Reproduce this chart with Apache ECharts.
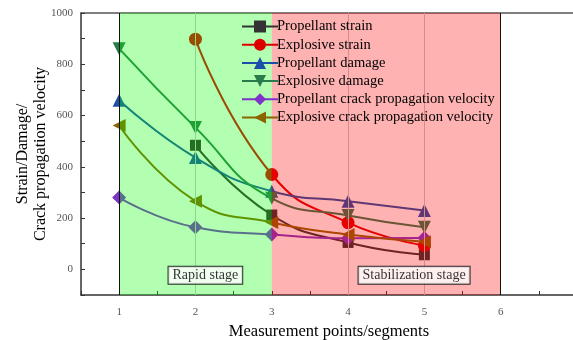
<!DOCTYPE html>
<html>
<head>
<meta charset="utf-8">
<script src="https://cdn.jsdelivr.net/npm/echarts@6/dist/echarts.min.js"></script>
<style>html,body{margin:0;padding:0;background:#fff;}#c{width:573px;height:340px;}</style>
</head>
<body>
<div id="c"></div>
<script>
// ---- data ----
var points = [1, 2, 3, 4, 5];
var seriesNames = [
  'Propellant strain',
  'Explosive strain',
  'Propellant damage',
  'Explosive damage',
  'Propellant crack propagation velocity',
  'Explosive crack propagation velocity'
];
var propellantStrain = [null, 484, 212, 105, 57];
var explosiveStrain  = [null, 898, 370, 182, 93];
var propellantDamage = [660, 436, 305, 266, 230];
var explosiveDamage  = [861, 553, 277, 210, 164];
var propellantCrack  = [280, 164, 136, 121, 122];
var explosiveCrack   = [561, 266, 183, 136, 108];
var xTickLabels = [1, 2, 3, 4, 5, 6];
var yTickLabels = [0, 200, 400, 600, 800, 1000];
var stages = [
  {name: 'Rapid stage', from: 1, to: 3, labelX: 2.13, labelY: -23},
  {name: 'Stabilization stage', from: 3, to: 6, labelX: 4.865, labelY: -23}
];

var values = [propellantStrain, explosiveStrain, propellantDamage, explosiveDamage, propellantCrack, explosiveCrack];
var colors = ['#333333', '#dd0000', '#1c4fa8', '#2b7a4b', '#8033c8', '#8b6400'];
var symbols = ['rect', 'circle', 'triangle', 'triangle', 'diamond', 'triangle'];
var rotations = [0, 0, 0, 180, 0, 90];
var sizes = [11, 13, 13, 13, 14, 13];

function pairs(arr) {
  var out = [];
  for (var i = 0; i < points.length; i++) {
    if (arr[i] !== null) out.push([points[i], arr[i]]);
  }
  return out;
}

var serif = 'Liberation Serif';
var series = [];
for (var k = 0; k < seriesNames.length; k++) {
  series.push({
    name: seriesNames[k],
    type: 'line',
    smooth: true,
    data: pairs(values[k]),
    symbol: symbols[k],
    symbolSize: sizes[k],
    symbolRotate: rotations[k],
    z: 2,
    lineStyle: {width: 2, color: colors[k]},
    itemStyle: {color: colors[k]}
  });
}
// faint grid lines inside shaded regions
series.push({
  type: 'line', data: [], silent: true, z: 3,
  markLine: {
    silent: true, symbol: 'none', label: {show: false}, z: 3,
    data: [
      {xAxis: 2, lineStyle: {color: '#c8c8c8', width: 1, type: 'solid'}},
      {xAxis: 4, lineStyle: {color: '#c8c8c8', width: 1, type: 'solid'}},
      {xAxis: 5, lineStyle: {color: '#c8c8c8', width: 1, type: 'solid'}}
    ]
  }
});
// translucent stage overlays drawn above the curves
series.push({
  type: 'line', data: [], silent: true, z: 10,
  markArea: {
    silent: true, z: 10,
    data: [
      [{xAxis: stages[0].from, itemStyle: {color: 'rgba(0,255,0,0.3)'}}, {xAxis: stages[0].to}],
      [{xAxis: stages[1].from, itemStyle: {color: 'rgba(255,0,0,0.3)'}}, {xAxis: stages[1].to}]
    ]
  },
  markLine: {
    silent: true, symbol: 'none', label: {show: false}, z: 12,
    lineStyle: {color: '#111', width: 1, type: 'solid'},
    data: [{xAxis: stages[0].from}, {xAxis: stages[1].to}]
  }
});
// stage labels
series.push({
  type: 'scatter', silent: true, z: 20,
  symbolSize: 1, itemStyle: {color: 'rgba(0,0,0,0)'},
  data: stages.map(function (s) { return {name: s.name, value: [s.labelX, s.labelY]}; }),
  label: {
    show: true, position: 'inside', formatter: '{b}',
    fontFamily: serif, fontSize: 14, color: '#000',
    backgroundColor: '#fff', borderColor: '#000', borderWidth: 1,
    padding: [2, 4, 1, 4]
  }
});

var chart = echarts.init(document.getElementById('c'), null, {renderer: 'canvas'});
chart.setOption({
  animation: false,
  backgroundColor: '#fff',
  grid: {left: 81, right: -4, top: 13, bottom: 45, containLabel: false, outerBoundsMode: 'none'},
  legend: {
    data: seriesNames,
    orient: 'vertical',
    left: 236, top: 14,
    z: 20,
    itemWidth: 36, itemHeight: 15, itemGap: 3.2,
    textStyle: {fontFamily: serif, fontSize: 14.5, lineHeight: 14, color: '#000', padding: [0, 0, 0, -6]}
  },
  xAxis: [{
    type: 'value', min: 0.5, max: 7, interval: 0.5,
    name: 'Measurement points/segments', nameLocation: 'middle', nameGap: 23,
    nameTextStyle: {fontFamily: serif, fontSize: 16.5, color: '#000'},
    axisLine: {show: true, onZero: false, lineStyle: {color: '#333', width: 1.5}},
    axisTick: {show: true, inside: true, length: 4, lineStyle: {color: '#333'}},
    axisLabel: {
      margin: 12, fontFamily: serif, fontSize: 11, color: '#555',
      formatter: function (v) { return xTickLabels.indexOf(v) >= 0 ? String(v) : ''; }
    },
    splitLine: {show: false}
  }, {
    type: 'value', min: 0.5, max: 7, position: 'top',
    axisLine: {show: true, onZero: false, lineStyle: {color: '#555', width: 1.5}},
    axisTick: {show: false}, axisLabel: {show: false}, splitLine: {show: false}
  }],
  yAxis: {
    type: 'value', min: -100, max: 1000, interval: 100,
    name: 'Strain/Damage/\nCrack propagation velocity', nameLocation: 'middle', nameGap: 31,
    nameRotate: 90, nameMoveOverlap: false,
    nameTextStyle: {fontFamily: serif, fontSize: 16, color: '#000', lineHeight: 18},
    axisLine: {show: true, onZero: false, lineStyle: {color: '#333', width: 1.5}},
    axisTick: {show: true, inside: true, length: 4, lineStyle: {color: '#333'}},
    axisLabel: {
      margin: 8, fontFamily: serif, fontSize: 11, color: '#555',
      formatter: function (v) { return yTickLabels.indexOf(v) >= 0 ? String(v) : ''; }
    },
    splitLine: {show: false}
  },
  series: series
});
</script>
</body>
</html>
